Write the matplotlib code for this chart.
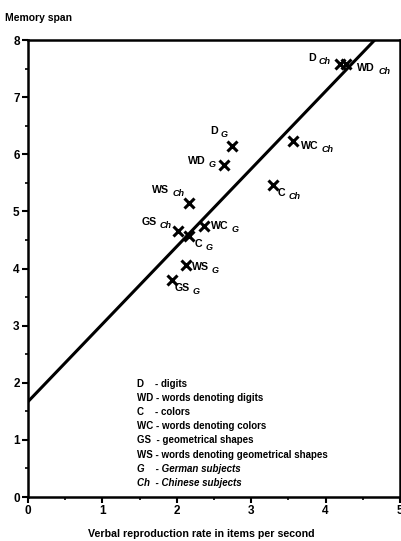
import matplotlib
matplotlib.use("Agg")
import matplotlib.pyplot as plt
from matplotlib.ticker import MultipleLocator

plt.rcParams["font.family"] = ["Liberation Sans", "DejaVu Sans"]
plt.rcParams["font.weight"] = "bold"

# data
names = ["D", "WD", "D", "WD", "WC", "C", "WS", "GS", "WC", "C", "WS", "GS"]
groups = ["Ch", "Ch", "G", "G", "Ch", "Ch", "Ch", "Ch", "G", "G", "G", "G"]
rate = [4.19, 4.28, 2.74, 2.64, 3.56, 3.29, 2.17, 2.01, 2.36, 2.16, 2.12, 1.93]
span = [7.58, 7.58, 6.15, 5.81, 6.24, 5.46, 5.15, 4.66, 4.75, 4.57, 4.06, 3.80]

fit_x = [0.0, 4.66]
fit_y = [1.67, 8.0]

legend_lines = [
    ("D    - digits", "normal"),
    ("WD - words denoting digits", "normal"),
    ("C    - colors", "normal"),
    ("WC - words denoting colors", "normal"),
    ("GS  - geometrical shapes", "normal"),
    ("WS - words denoting geometrical shapes", "normal"),
    ("G    - German subjects", "italic"),
    ("Ch  - Chinese subjects", "italic"),
]

# label placement: (dx, dy) in pixels, horizontal alignment
label_pos = [
    (-9, 6, "right"), (11, -4, "left"), (-4, 14, "right"), (-9, 4, "right"),
    (8, -5, "left"), (5, -8, "left"), (-5, 12, "right"), (-6, 8, "right"),
    (7, 0, "left"), (6, -8, "left"), (6, -2, "left"), (3, -8, "left"),
]

H = 541

fig = plt.figure(figsize=(4.02, 5.41), dpi=100)
ax = fig.add_axes([0.0697, 0.0813, 0.9253, 0.8447])

ax.plot(fit_x, fit_y, color="black", lw=2.2, solid_capstyle="butt")
ax.plot(rate, span, "x", color="black", ms=6.5, mew=2.2, ls="none")

main_kw = dict(fontsize=7.7, fontweight="bold")
sub_kw = dict(fontsize=6.5, fontweight="bold", fontstyle="italic")
for n, g, x, y, (dx, dy, ha) in zip(names, groups, rate, span, label_pos):
    if ha == "left":
        t = ax.annotate(n, (x, y), xytext=(dx, dy), textcoords="offset pixels",
                        ha="left", va="center", **main_kw)
        ax.annotate(g, xy=(1, 0), xycoords=t, xytext=(3, -3),
                    textcoords="offset pixels", ha="left", va="bottom", **sub_kw)
    else:
        s = ax.annotate(g, (x, y), xytext=(dx, dy - 3), textcoords="offset pixels",
                        ha="right", va="center", **sub_kw)
        ax.annotate(n, xy=(0, 0), xycoords=s, xytext=(-3, 3),
                    textcoords="offset pixels", ha="right", va="bottom", **main_kw)

for i, (txt, style) in enumerate(legend_lines):
    ax.text(137, H - (384 + i * 14.1), txt, transform=None, fontsize=7,
            fontweight="bold", fontstyle=style, va="center", ha="left")

ax.set_xlim(0, 5)
ax.set_ylim(0, 8)
ax.xaxis.set_major_locator(MultipleLocator(1))
ax.yaxis.set_major_locator(MultipleLocator(1))
ax.xaxis.set_minor_locator(MultipleLocator(0.5))
ax.yaxis.set_minor_locator(MultipleLocator(0.5))
ax.tick_params(which="major", direction="out", length=4, width=1.5,
               labelsize=8.5, pad=2)
ax.tick_params(which="minor", direction="out", length=2, width=1.2)
for lab in ax.get_xticklabels() + ax.get_yticklabels():
    lab.set_fontweight("bold")
for sp in ax.spines.values():
    sp.set_linewidth(1.8)

fig.text(0.012, 0.966, "Memory span", fontsize=7.5, fontweight="bold",
         ha="left", va="center")
fig.text(0.5, 0.013, "Verbal reproduction rate in items per second",
         fontsize=7.7, fontweight="bold", ha="center", va="center")

fig.savefig("out.png", dpi=100)
